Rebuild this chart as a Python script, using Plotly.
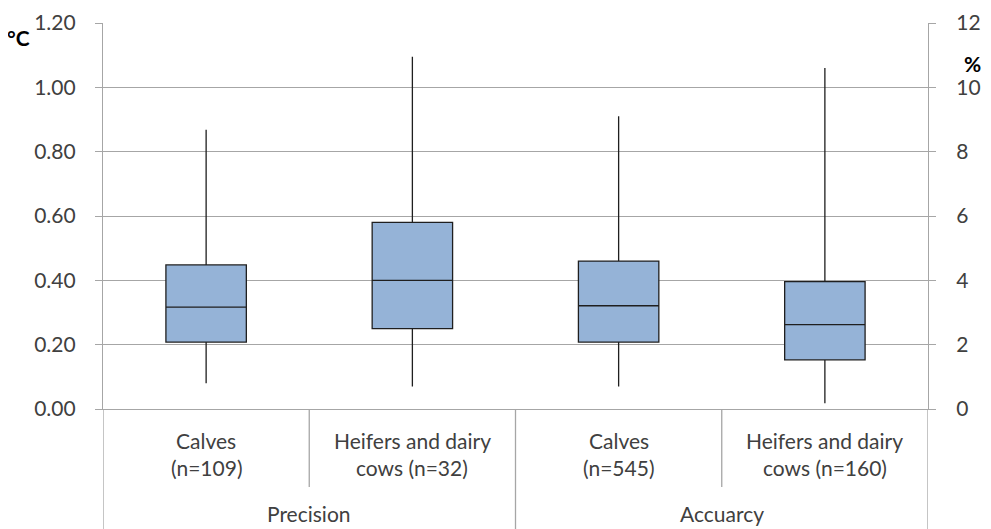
import plotly.graph_objects as go

# ---- data ----
groups = ["Precision", "Accuarcy"]
categories = ["Calves<br>(n=109)", "Heifers and dairy<br>cows (n=32)",
              "Calves<br>(n=545)", "Heifers and dairy<br>cows (n=160)"]
# Precision (°C, left axis)
prec_min = [0.08, 0.07]
prec_q1 = [0.208, 0.25]
prec_med = [0.317, 0.40]
prec_q3 = [0.448, 0.58]
prec_max = [0.868, 1.095]
# Accuracy (%, right axis)
acc_min = [0.7, 0.18]
acc_q1 = [2.08, 1.53]
acc_med = [3.21, 2.62]
acc_q3 = [4.6, 3.96]
acc_max = [9.1, 10.6]

left_ticks = [0, 0.2, 0.4, 0.6, 0.8, 1.0, 1.2]
right_ticks = [0, 2, 4, 6, 8, 10, 12]

FONT = "Lato, 'Open Sans', sans-serif"
TXT = "#404040"
GRID = "#A6A6A6"
FILL = "#95B3D7"
FS = 21

fig = go.Figure()
box_style = dict(fillcolor=FILL, line=dict(color="#1f1f1f", width=1.3),
                 whiskerwidth=0, width=0.39, boxpoints=False, showlegend=False,
                 hoverinfo="skip")
fig.add_trace(go.Box(x=[0, 1], lowerfence=prec_min, q1=prec_q1, median=prec_med,
                     q3=prec_q3, upperfence=prec_max, yaxis="y", **box_style))
fig.add_trace(go.Box(x=[2, 3], lowerfence=acc_min, q1=acc_q1, median=acc_med,
                     q3=acc_q3, upperfence=acc_max, yaxis="y2", **box_style))

ann = []
for i, c in enumerate(categories):
    for k, line in enumerate(c.split("<br>")):
        ann.append(dict(x=i, y=[-0.081, -0.152][k], xref="x", yref="paper", text=line,
                        showarrow=False, yanchor="middle",
                        font=dict(family=FONT, size=FS, color=TXT)))
for j, g in enumerate(groups):
    ann.append(dict(x=0.5 + 2 * j, y=-0.271, xref="x", yref="paper", text=g,
                    showarrow=False, font=dict(family=FONT, size=FS, color=TXT),
                    yanchor="middle"))
ann.append(dict(x=-0.103, y=0.963, xref="paper", yref="paper", text="<b>°C</b>",
                showarrow=False, xanchor="center", yanchor="middle",
                font=dict(family=FONT, size=21, color="#000")))
ann.append(dict(x=1.0545, y=0.896, xref="paper", yref="paper", text="<b>%</b>",
                showarrow=False, xanchor="center", yanchor="middle",
                font=dict(family=FONT, size=21, color="#000")))

shapes = []
for xv in [0.5, 2.5]:
    shapes.append(dict(type="line", xref="x", yref="paper", x0=xv, x1=xv, y0=0, y1=-0.202,
                       line=dict(color=GRID, width=1.3)))
for xv in [-0.5, 1.5, 3.5]:
    shapes.append(dict(type="line", xref="x", yref="paper", x0=xv, x1=xv, y0=0, y1=-0.36,
                       line=dict(color=GRID, width=1.3)))

# page has an 8px body margin; offset margins so the plot area lands where it should
fig.update_layout(
    width=991, height=529,
    margin=dict(l=95, r=71, t=15, b=128, autoexpand=False),
    paper_bgcolor="white", plot_bgcolor="white",
    boxmode="overlay",
    xaxis=dict(range=[-0.5, 3.5], showticklabels=False, showgrid=False, zeroline=False,
               showline=True, linecolor=GRID, linewidth=1.3, ticks="", automargin=False),
    yaxis=dict(range=[0, 1.2], tickvals=left_ticks, tickformat=".2f", showgrid=True,
               gridcolor=GRID, gridwidth=1.3, zeroline=False, showline=True,
               linecolor=GRID, linewidth=1.3, ticks="outside", ticklen=7,
               tickcolor=GRID, tickwidth=1.3, ticklabelstandoff=15, automargin=False,
               tickfont=dict(family=FONT, size=FS, color=TXT)),
    yaxis2=dict(range=[0, 12], tickvals=right_ticks, overlaying="y", side="right",
                showgrid=False, zeroline=False, showline=True, linecolor=GRID,
                linewidth=1.3, ticks="outside", ticklen=7, tickcolor=GRID, tickwidth=1.3,
                ticklabelstandoff=16, automargin=False,
                tickfont=dict(family=FONT, size=FS, color=TXT)),
    annotations=ann, shapes=shapes,
)
fig.write_html("out.html")
